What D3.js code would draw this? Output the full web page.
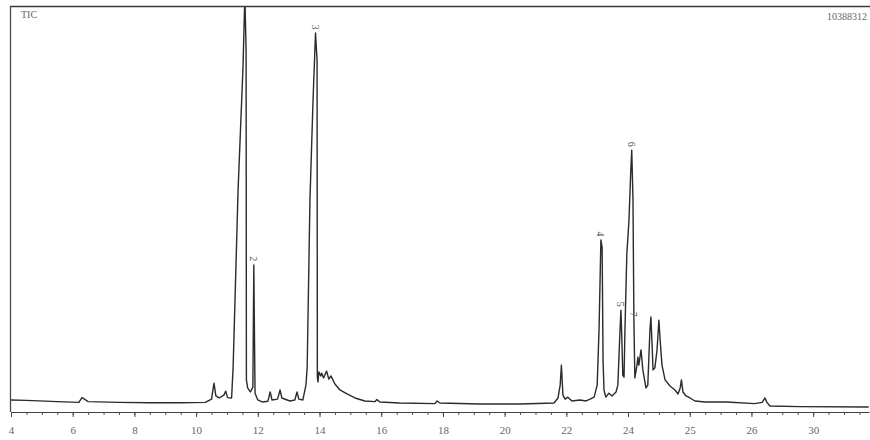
<!DOCTYPE html>
<html>
<head>
<meta charset="utf-8">
<script src="https://cdn.jsdelivr.net/npm/d3@7"></script>
<style>
  body { margin: 0; background: #fff; }
  svg { display: block; }
</style>
</head>
<body>
<div id="chart"></div>
<script>
// Retention time (min) of each traced point of the TIC trace
const times = [
    4.0, 4.5, 5.5, 6.2, 6.3, 6.38, 6.5, 7.5, 8.5, 9.5,
    10.3, 10.5, 10.58, 10.64, 10.75, 10.9, 10.96, 11.02, 11.15, 11.2,
    11.36, 11.52, 11.58, 11.62, 11.63, 11.67, 11.76, 11.84, 11.87, 11.91,
    12.0, 12.14, 12.33, 12.4, 12.46, 12.64, 12.72, 12.78, 13.04, 13.2,
    13.27, 13.33, 13.46, 13.56, 13.6, 13.69, 13.79, 13.87, 13.92, 13.93,
    13.95, 13.98, 14.04, 14.07, 14.13, 14.23, 14.3, 14.37, 14.5, 14.66,
    14.89, 15.15, 15.47, 15.8, 15.86, 15.96, 16.6, 17.74, 17.81, 17.9,
    19.2, 20.5, 21.6, 21.73, 21.8, 21.84, 21.89, 21.96, 22.05, 22.18,
    22.44, 22.64, 22.77, 22.9, 23.0, 23.06, 23.12, 23.16, 23.19, 23.22,
    23.28, 23.38, 23.48, 23.61, 23.67, 23.74, 23.77, 23.8, 23.83, 23.87,
    23.9, 23.96, 24.03, 24.09, 24.12, 24.16, 24.19, 24.22, 24.29, 24.32,
    24.35, 24.42, 24.48, 24.58, 24.64, 24.71, 24.74, 24.78, 24.81, 24.87,
    24.94, 25.0, 25.04, 25.1, 25.2, 25.36, 25.52, 25.62, 25.69, 25.73,
    25.78, 25.88, 26.01, 26.17, 26.5, 27.2, 28.1, 28.35, 28.44, 28.5,
    28.6, 29.57, 31.8
];
// Detector response, % of full scale (peak 1 runs off the top)
const intensities = [
    2.0, 1.9, 1.6, 1.4, 2.6, 2.2, 1.6, 1.4, 1.3, 1.3,
    1.4, 2.2, 6.2, 3.0, 2.5, 3.2, 4.2, 2.6, 2.5, 10.2,
    54.4, 85, 103, 89, 7, 5, 4, 5.2, 35.7, 3.7,
    2.0, 1.5, 1.7, 4.0, 2.0, 2.2, 4.5, 2.5, 1.75, 2.0,
    4.0, 2.2, 2.0, 5.7, 10.2, 51.9, 76.8, 93.5, 86.8, 7.7,
    6.5, 9.0, 8.0, 8.7, 7.5, 9.2, 7.2, 8.0, 6.0, 4.5,
    3.5, 2.5, 1.75, 1.6, 2.1, 1.5, 1.25, 1.1, 1.75, 1.25,
    1.0, 1.0, 1.25, 2.5, 5.7, 10.7, 3.2, 2.2, 2.7, 1.75,
    2.0, 1.75, 2.2, 2.7, 5.7, 19.5, 41.9, 40, 12, 4.5,
    2.7, 3.7, 3.0, 4.0, 5.7, 19.5, 24.4, 17, 8.2, 7.7,
    19.5, 38.2, 46.9, 59.4, 64.3, 51.9, 21.9, 7.5, 10.7, 12.7,
    10.7, 14.5, 9.5, 5.0, 5.7, 19.5, 22.7, 15.7, 9.5, 10.0,
    14.5, 21.9, 17, 10.7, 7.0, 5.5, 4.5, 3.5, 5.0, 7.0,
    4.0, 3.0, 2.5, 1.75, 1.5, 1.5, 1.1, 1.4, 2.5, 1.4,
    0.5, 0.35, 0.25
];

// Axis ticks as printed on the scan
const tickValues = [4, 6, 8, 10, 12, 14, 16, 18, 20, 22, 24, 26, 28, 30];
const tickLabels = ['4', '6', '8', '10', '12', '14', '16', '18', '20', '22', '24', '25', '26', '30'];

// Numbered peaks
const peakNames = ['2', '3', '4', '5', '6', '7'];
const peakTimes = [11.87, 13.87, 23.12, 23.77, 24.12, 24.19];

const traceTitle = 'TIC';
const fullScale = '10388312';

// Set up dimensions
const width = 870;
const height = 440;
const plotLeft = 11, plotRight = 869, plotTop = 7, baseY = 408, axisY = 412;

const svg = d3.select('#chart')
    .append('svg')
    .attr('width', width)
    .attr('height', height);

const data = times.map((t, i) => ({ t: t, v: intensities[i] }));

const x = d3.scaleLinear().domain([4, 31.81]).range([plotLeft, plotRight]);
const y = d3.scaleLinear().domain([0, 100]).range([baseY, plotTop]);

// clip so the big peak is cut by the frame
svg.append('clipPath')
    .attr('id', 'plot-clip')
    .append('rect')
    .attr('x', plotLeft - 2)
    .attr('y', plotTop)
    .attr('width', plotRight - plotLeft + 4)
    .attr('height', axisY - plotTop);

// frame: top and left edges
svg.append('line')
    .attr('x1', plotLeft - 1).attr('x2', width)
    .attr('y1', plotTop - 0.5).attr('y2', plotTop - 0.5)
    .attr('stroke', '#3a3a3a')
    .attr('stroke-width', 1.6);
svg.append('line')
    .attr('x1', plotLeft - 0.5).attr('x2', plotLeft - 0.5)
    .attr('y1', plotTop - 1).attr('y2', axisY)
    .attr('stroke', '#4a4a4a')
    .attr('stroke-width', 1.3);

// trace
const lineGenerator = d3.line()
    .x(d => x(d.t))
    .y(d => y(d.v));

svg.append('path')
    .datum(data)
    .attr('clip-path', 'url(#plot-clip)')
    .attr('d', lineGenerator)
    .attr('fill', 'none')
    .attr('stroke', '#2b2b2b')
    .attr('stroke-width', 1.4)
    .attr('stroke-linejoin', 'round');

// minor ticks every half minute
const minor = svg.append('g')
    .attr('transform', `translate(0, ${axisY})`)
    .call(d3.axisBottom(x)
        .tickValues(d3.range(4, 31.6, 0.5))
        .tickSize(3)
        .tickSizeOuter(0)
        .tickFormat(''));
minor.select('.domain').remove();
minor.selectAll('line').attr('stroke', '#555');

// labelled ticks
const axis = svg.append('g')
    .attr('transform', `translate(0, ${axisY})`)
    .call(d3.axisBottom(x)
        .tickValues(tickValues)
        .tickSize(5)
        .tickSizeOuter(0)
        .tickPadding(9)
        .tickFormat((d, i) => tickLabels[i]));
axis.select('.domain')
    .attr('stroke', '#444')
    .attr('stroke-width', 1.2);
axis.selectAll('line').attr('stroke', '#444');
axis.selectAll('text')
    .attr('fill', '#666')
    .style('font-family', '"Liberation Serif", serif')
    .style('font-size', '11px');

// peak numbers, turned on their side above each peak
function valueAt(t) {
    return d3.least(data, d => Math.abs(d.t - t)).v;
}
svg.selectAll('text.peak')
    .data(peakNames)
    .join('text')
    .attr('class', 'peak')
    .attr('text-anchor', 'middle')
    .attr('dominant-baseline', 'central')
    .attr('transform', (d, i) => `translate(${x(peakTimes[i])}, ${y(valueAt(peakTimes[i])) - 6}) rotate(90)`)
    .attr('fill', '#555')
    .style('font-family', '"Liberation Serif", serif')
    .style('font-size', '10px')
    .text(d => d);

// header texts
svg.append('text')
    .attr('x', 21)
    .attr('y', 18)
    .attr('fill', '#666')
    .style('font-family', '"Liberation Serif", serif')
    .style('font-size', '10px')
    .text(traceTitle);
svg.append('text')
    .attr('x', 867)
    .attr('y', 20)
    .attr('text-anchor', 'end')
    .attr('fill', '#666')
    .style('font-family', '"Liberation Serif", serif')
    .style('font-size', '10px')
    .text(fullScale);
</script>
</body>
</html>
